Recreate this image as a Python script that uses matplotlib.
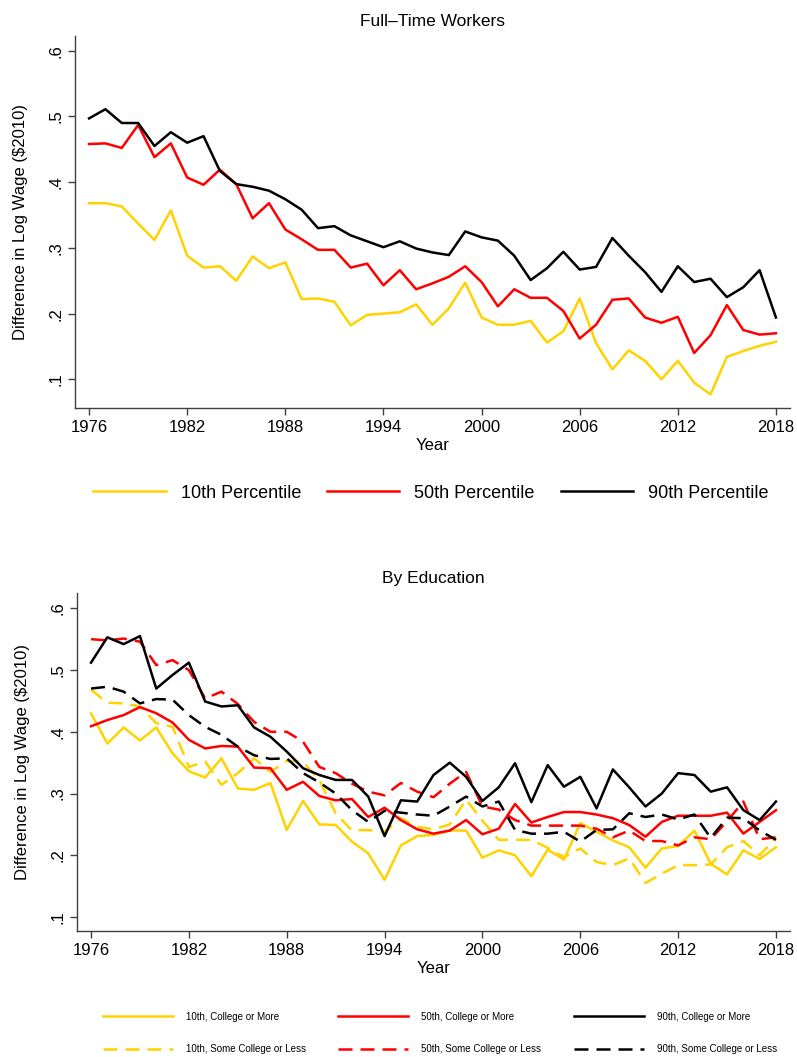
import numpy as np
import matplotlib.pyplot as plt
from matplotlib.lines import Line2D

plt.rcParams['font.family'] = ['Liberation Sans', 'DejaVu Sans']

# Years and axis ticks
years = np.arange(1976, 2019)
x_ticks = [1976, 1982, 1988, 1994, 2000, 2006, 2012, 2018]
y_ticks = [0.1, 0.2, 0.3, 0.4, 0.5, 0.6]
y_tick_labels = ['.1', '.2', '.3', '.4', '.5', '.6']

# Full-time workers: difference in log wage by percentile
p10 = [0.368, 0.368, 0.363, 0.337, 0.312, 0.357, 0.288, 0.270, 0.272, 0.250,
       0.287, 0.269, 0.278, 0.222, 0.223, 0.218, 0.182, 0.198, 0.200, 0.202,
       0.214, 0.183, 0.208, 0.247, 0.194, 0.183, 0.183, 0.189, 0.156, 0.173,
       0.223, 0.155, 0.115, 0.144, 0.128, 0.100, 0.128, 0.095, 0.077, 0.134,
       0.143, 0.151, 0.157]
p50 = [0.458, 0.459, 0.452, 0.487, 0.438, 0.459, 0.407, 0.396, 0.419, 0.397,
       0.345, 0.368, 0.328, 0.313, 0.297, 0.297, 0.270, 0.276, 0.243, 0.266,
       0.237, 0.246, 0.256, 0.272, 0.248, 0.211, 0.237, 0.224, 0.224, 0.204,
       0.162, 0.183, 0.221, 0.223, 0.194, 0.186, 0.195, 0.140, 0.167, 0.213,
       0.175, 0.168, 0.170]
p90 = [0.497, 0.511, 0.490, 0.490, 0.455, 0.476, 0.460, 0.470, 0.417, 0.397,
       0.393, 0.387, 0.374, 0.358, 0.330, 0.333, 0.319, 0.310, 0.301, 0.310,
       0.299, 0.293, 0.289, 0.325, 0.316, 0.311, 0.288, 0.251, 0.269, 0.294,
       0.267, 0.271, 0.315, 0.288, 0.263, 0.233, 0.272, 0.248, 0.253, 0.225,
       0.240, 0.266, 0.194]

# By education
p10_col = [0.430, 0.381, 0.407, 0.386, 0.407, 0.365, 0.336, 0.326, 0.357, 0.308,
           0.306, 0.317, 0.241, 0.288, 0.250, 0.249, 0.222, 0.203, 0.160, 0.216,
           0.231, 0.233, 0.240, 0.240, 0.196, 0.208, 0.200, 0.166, 0.209, 0.193,
           0.252, 0.238, 0.224, 0.213, 0.180, 0.211, 0.215, 0.240, 0.186, 0.169,
           0.208, 0.194, 0.213]
p10_some = [0.468, 0.447, 0.446, 0.441, 0.414, 0.408, 0.343, 0.352, 0.314, 0.333,
            0.357, 0.335, 0.353, 0.351, 0.322, 0.268, 0.240, 0.241, 0.238, 0.260,
            0.246, 0.242, 0.250, 0.290, 0.256, 0.225, 0.225, 0.225, 0.212, 0.197,
            0.211, 0.189, 0.184, 0.195, 0.155, 0.170, 0.184, 0.184, 0.185, 0.213,
            0.223, 0.200, 0.228]
p50_col = [0.409, 0.419, 0.427, 0.440, 0.430, 0.415, 0.387, 0.373, 0.377, 0.376,
           0.342, 0.341, 0.306, 0.319, 0.296, 0.289, 0.291, 0.262, 0.277, 0.257,
           0.242, 0.235, 0.240, 0.257, 0.234, 0.243, 0.283, 0.253, 0.262, 0.270,
           0.270, 0.266, 0.260, 0.249, 0.230, 0.254, 0.264, 0.264, 0.264, 0.269,
           0.235, 0.254, 0.273]
p50_some = [0.550, 0.548, 0.551, 0.546, 0.508, 0.516, 0.500, 0.454, 0.465, 0.445,
            0.416, 0.400, 0.400, 0.384, 0.343, 0.333, 0.316, 0.303, 0.297, 0.317,
            0.303, 0.294, 0.316, 0.335, 0.279, 0.274, 0.257, 0.248, 0.248, 0.248,
            0.248, 0.243, 0.229, 0.240, 0.223, 0.223, 0.216, 0.229, 0.226, 0.255,
            0.287, 0.226, 0.229]
p90_col = [0.512, 0.553, 0.542, 0.555, 0.470, 0.492, 0.512, 0.449, 0.441, 0.443,
           0.407, 0.392, 0.368, 0.341, 0.330, 0.322, 0.322, 0.295, 0.231, 0.289,
           0.287, 0.330, 0.350, 0.327, 0.288, 0.310, 0.349, 0.286, 0.346, 0.311,
           0.327, 0.276, 0.339, 0.310, 0.279, 0.300, 0.333, 0.330, 0.303, 0.310,
           0.273, 0.257, 0.287]
p90_some = [0.470, 0.473, 0.465, 0.446, 0.453, 0.452, 0.427, 0.408, 0.395, 0.376,
            0.362, 0.356, 0.357, 0.333, 0.318, 0.300, 0.273, 0.254, 0.272, 0.269,
            0.266, 0.264, 0.279, 0.295, 0.279, 0.287, 0.241, 0.235, 0.235, 0.238,
            0.222, 0.241, 0.242, 0.268, 0.262, 0.266, 0.258, 0.266, 0.228, 0.261,
            0.260, 0.240, 0.225]

gold = '#FFD200'
red = '#FF0000'
black = '#000000'
lw = 1.8
dash = (5.6, 3.2)
axis_col = '#404040'


def style_axis(ax, ylim):
    ax.set_xlim(1975.14, 2018.86)
    ax.set_ylim(*ylim)
    ax.set_xticks(x_ticks)
    ax.set_yticks(y_ticks)
    ax.set_yticklabels(y_tick_labels, rotation=90, va='center')
    for s in ['top', 'right']:
        ax.spines[s].set_visible(False)
    for s in ['left', 'bottom']:
        ax.spines[s].set_color(axis_col)
        ax.spines[s].set_linewidth(1.0)
    ax.tick_params(axis='both', direction='out', length=5, width=1,
                   color=axis_col, labelsize=12, pad=3.5)
    ax.set_xlabel('Year', fontsize=12, labelpad=2)
    ax.set_ylabel(r'Difference in Log Wage (\$2010)', fontsize=12)
    ax.yaxis.set_label_coords(-0.066, 0.5)


fig = plt.figure(figsize=(7.97, 10.57), dpi=100)

# Top panel
ax1 = fig.add_axes([75 / 797, 1 - 408 / 1057, 715 / 797, 372 / 1057])
ax1.plot(years, p10, color=gold, lw=lw, label='10th Percentile')
ax1.plot(years, p50, color=red, lw=lw, label='50th Percentile')
ax1.plot(years, p90, color=black, lw=lw, label='90th Percentile')
style_axis(ax1, (0.0563, 0.6224))
fig.text(432 / 797, 1 - 21 / 1057, 'Full\u2013Time Workers', ha='center',
         va='center', fontsize=12.5)

h1, l1 = ax1.get_legend_handles_labels()
fig.legend(h1, l1, loc='center', bbox_to_anchor=(431 / 797, 1 - 493 / 1057),
           ncol=3, frameon=False, handlelength=4.0, handletextpad=0.83,
           columnspacing=1.45, borderpad=0, fontsize=13)

# Bottom panel
ax2 = fig.add_axes([77 / 797, 1 - 931 / 1057, 713 / 797, 338 / 1057])
ax2.plot(years, p10_col, color=gold, lw=lw)
ax2.plot(years, p10_some, color=gold, lw=lw, ls=(0, dash))
ax2.plot(years, p50_col, color=red, lw=lw)
ax2.plot(years, p50_some, color=red, lw=lw, ls=(0, dash))
ax2.plot(years, p90_col, color=black, lw=lw)
ax2.plot(years, p90_some, color=black, lw=lw, ls=(0, dash))
style_axis(ax2, (0.0773, 0.6248))
fig.text(433 / 797, 1 - 578 / 1057, 'By Education', ha='center',
         va='center', fontsize=12.5)

h2 = [
    Line2D([], [], color=gold, lw=lw),
    Line2D([], [], color=gold, lw=lw, ls=(0, dash)),
    Line2D([], [], color=red, lw=lw),
    Line2D([], [], color=red, lw=lw, ls=(0, dash)),
    Line2D([], [], color=black, lw=lw),
    Line2D([], [], color=black, lw=lw, ls=(0, dash)),
]
l2 = ['10th, College or More', '10th, Some College or Less',
      '50th, College or More', '50th, Some College or Less',
      '90th, College or More', '90th, Some College or Less']
fig.legend(h2, l2, loc='center', bbox_to_anchor=(440 / 797, 1 - 1033 / 1057),
           ncol=3, frameon=False, handlelength=7.2, handletextpad=1.34,
           columnspacing=3.3, labelspacing=2.3, borderpad=0, fontsize=7)

fig.savefig('out.png', dpi=100)
